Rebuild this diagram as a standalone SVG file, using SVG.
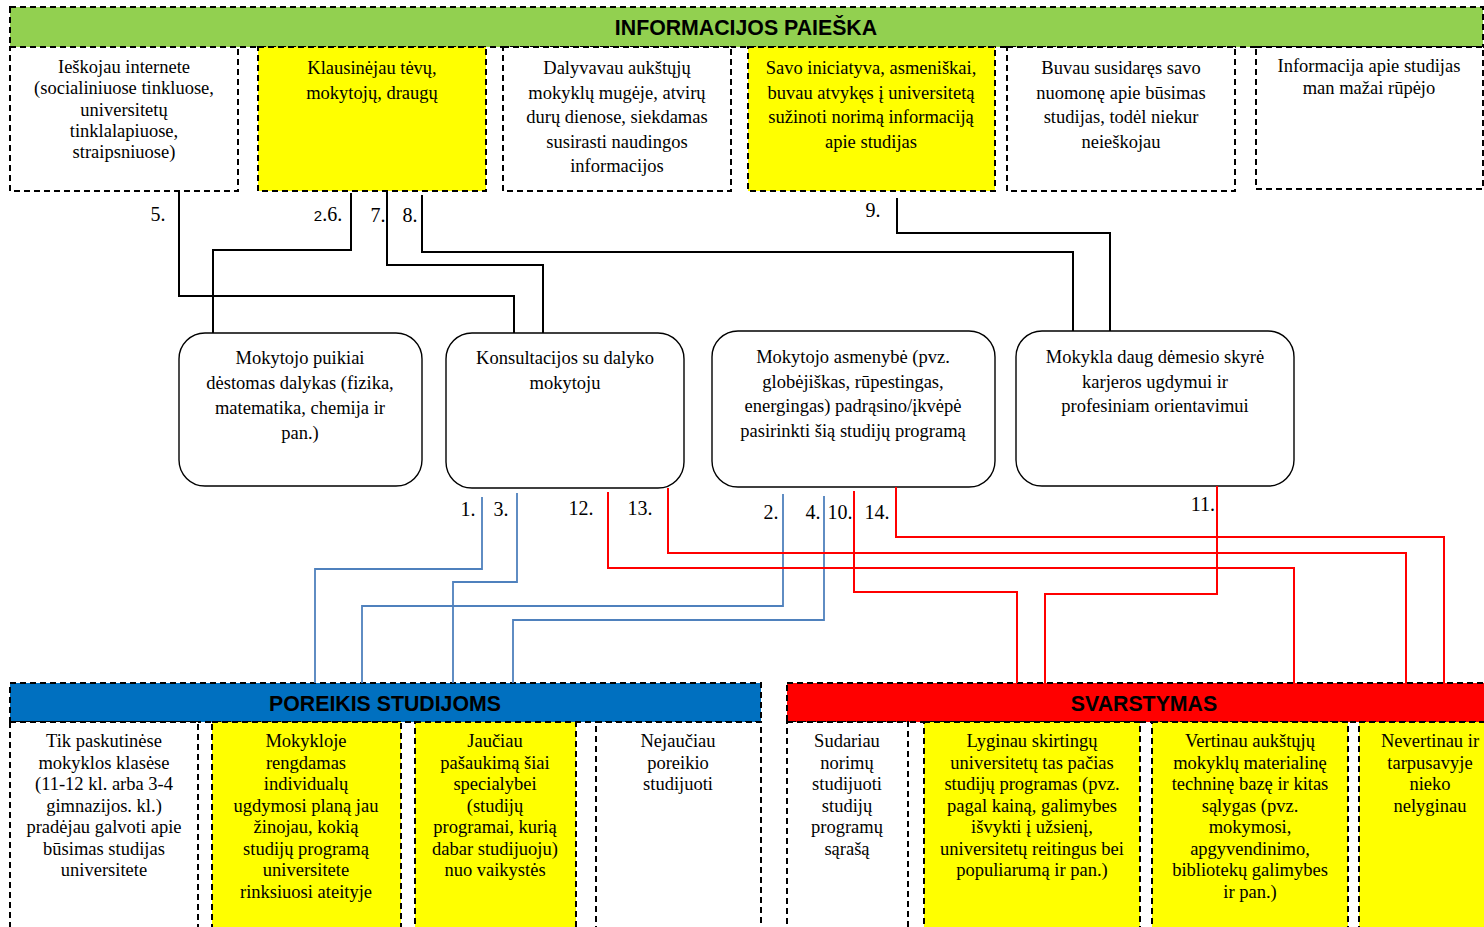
<svg xmlns="http://www.w3.org/2000/svg" width="1484" height="927" viewBox="0 0 1484 927">
  <style>
    .dash { stroke: #000; stroke-width: 2; stroke-dasharray: 6 4; }
    .white { fill: #fff; }
    .yellow { fill: #ffff00; }
    .green { fill: #92d050; }
    .blue { fill: #0070c0; }
    .red { fill: #ff0000; }
    .round { fill: #fff; stroke: #000; stroke-width: 1.4; }
    .t { font-family: "Liberation Serif", "Times New Roman", serif; font-size: 18.5px; fill: #000; text-anchor: middle; }
    .num { font-family: "Liberation Serif", "Times New Roman", serif; font-size: 20px; fill: #000; text-anchor: middle; }
    .hdr { font-family: "Liberation Sans", Arial, sans-serif; font-size: 21.3px; font-weight: bold; fill: #000; text-anchor: middle; }
    .cb { fill: none; stroke: #000; stroke-width: 2; }
    .cbl { fill: none; stroke: #4f81bd; stroke-width: 1.8; }
    .cr { fill: none; stroke: #ff0000; stroke-width: 2; }
  </style>

  <rect width="1484" height="927" fill="#fff"/>

  <!-- Section banners -->
  <g id="banner-paieska">
    <rect class="green dash" x="10" y="7" width="1473" height="40"/>
    <text class="hdr" x="746" y="35">INFORMACIJOS PAIEŠKA</text>
  </g>
  <g id="banner-poreikis">
    <rect class="blue dash" x="10" y="683" width="751" height="39"/>
    <text class="hdr" x="385" y="711">POREIKIS STUDIJOMS</text>
  </g>
  <g id="banner-svarstymas">
    <rect class="red dash" x="787" y="683" width="720" height="39"/>
    <text class="hdr" x="1144" y="711">SVARSTYMAS</text>
  </g>

  <!-- Information search options -->
  <g id="info-internet">
    <rect class="white dash" x="10" y="47" width="228" height="144"/>
    <text class="t" x="124" y="73">Ieškojau internete<tspan x="124" dy="21.3">(socialiniuose tinkluose,</tspan><tspan x="124" dy="21.3">universitetų</tspan><tspan x="124" dy="21.3">tinklalapiuose,</tspan><tspan x="124" dy="21.3">straipsniuose)</tspan></text>
  </g>
  <g id="info-parents">
    <rect class="yellow dash" x="258" y="47" width="228" height="144"/>
    <text class="t" x="372" y="74">Klausinėjau tėvų,<tspan x="372" dy="25">mokytojų, draugų</tspan></text>
  </g>
  <g id="info-fair">
    <rect class="white dash" x="503" y="47" width="228" height="144"/>
    <text class="t" x="617" y="74">Dalyvavau aukštųjų<tspan x="617" dy="24.5">mokyklų mugėje, atvirų</tspan><tspan x="617" dy="24.5">durų dienose, siekdamas</tspan><tspan x="617" dy="24.5">susirasti naudingos</tspan><tspan x="617" dy="24.5">informacijos</tspan></text>
  </g>
  <g id="info-visit">
    <rect class="yellow dash" x="748" y="47" width="247" height="144"/>
    <text class="t" x="871" y="74">Savo iniciatyva, asmeniškai,<tspan x="871" dy="24.5">buvau atvykęs į universitetą</tspan><tspan x="871" dy="24.5">sužinoti norimą informaciją</tspan><tspan x="871" dy="24.5">apie studijas</tspan></text>
  </g>
  <g id="info-opinion">
    <rect class="white dash" x="1007" y="47" width="228" height="144"/>
    <text class="t" x="1121" y="74">Buvau susidaręs savo<tspan x="1121" dy="24.5">nuomonę apie būsimas</tspan><tspan x="1121" dy="24.5">studijas, todėl niekur</tspan><tspan x="1121" dy="24.5">neieškojau</tspan></text>
  </g>
  <g id="info-none">
    <rect class="white dash" x="1256" y="47" width="227" height="142"/>
    <text class="t" x="1369" y="72">Informacija apie studijas<tspan x="1369" dy="22">man mažai rūpėjo</tspan></text>
  </g>

  <!-- School factors -->
  <g id="school-subject">
    <rect class="round" x="179" y="333" width="243" height="153" rx="26"/>
    <text class="t" x="300" y="364">Mokytojo puikiai<tspan x="300" dy="25">dėstomas dalykas (fizika,</tspan><tspan x="300" dy="25">matematika, chemija ir</tspan><tspan x="300" dy="25">pan.)</tspan></text>
  </g>
  <g id="school-consult">
    <rect class="round" x="446" y="333" width="238" height="155" rx="26"/>
    <text class="t" x="565" y="364">Konsultacijos su dalyko<tspan x="565" dy="25">mokytoju</tspan></text>
  </g>
  <g id="school-teacher">
    <rect class="round" x="712" y="331" width="283" height="156" rx="26"/>
    <text class="t" x="853" y="363">Mokytojo asmenybė (pvz.<tspan x="853" dy="24.7">globėjiškas, rūpestingas,</tspan><tspan x="853" dy="24.7">energingas) padrąsino/įkvėpė</tspan><tspan x="853" dy="24.7">pasirinkti šią studijų programą</tspan></text>
  </g>
  <g id="school-career">
    <rect class="round" x="1016" y="331" width="278" height="155" rx="26"/>
    <text class="t" x="1155" y="363">Mokykla daug dėmesio skyrė<tspan x="1155" dy="24.5">karjeros ugdymui ir</tspan><tspan x="1155" dy="24.5">profesiniam orientavimui</tspan></text>
  </g>

  <!-- Study need options -->
  <g id="need-late">
    <rect class="white dash" x="10" y="722" width="188" height="240"/>
    <text class="t" x="104" y="747">Tik paskutinėse<tspan x="104" dy="21.5">mokyklos klasėse</tspan><tspan x="104" dy="21.5">(11-12 kl. arba 3-4</tspan><tspan x="104" dy="21.5">gimnazijos. kl.)</tspan><tspan x="104" dy="21.5">pradėjau galvoti apie</tspan><tspan x="104" dy="21.5">būsimas studijas</tspan><tspan x="104" dy="21.5">universitete</tspan></text>
  </g>
  <g id="need-plan">
    <rect class="yellow dash" x="212" y="722" width="189" height="240"/>
    <text class="t" x="306" y="747">Mokykloje<tspan x="306" dy="21.5">rengdamas</tspan><tspan x="306" dy="21.5">individualų</tspan><tspan x="306" dy="21.5">ugdymosi planą jau</tspan><tspan x="306" dy="21.5">žinojau, kokią</tspan><tspan x="306" dy="21.5">studijų programą</tspan><tspan x="306" dy="21.5">universitete</tspan><tspan x="306" dy="21.5">rinksiuosi ateityje</tspan></text>
  </g>
  <g id="need-calling">
    <rect class="yellow dash" x="415" y="722" width="161" height="240"/>
    <text class="t" x="495" y="747">Jaučiau<tspan x="495" dy="21.5">pašaukimą šiai</tspan><tspan x="495" dy="21.5">specialybei</tspan><tspan x="495" dy="21.5">(studijų</tspan><tspan x="495" dy="21.5">programai, kurią</tspan><tspan x="495" dy="21.5">dabar studijuoju)</tspan><tspan x="495" dy="21.5">nuo vaikystės</tspan></text>
  </g>
  <g id="need-none">
    <rect class="white dash" x="596" y="722" width="165" height="240"/>
    <text class="t" x="678" y="747">Nejaučiau<tspan x="678" dy="21.5">poreikio</tspan><tspan x="678" dy="21.5">studijuoti</tspan></text>
  </g>

  <!-- Consideration options -->
  <g id="consider-list">
    <rect class="white dash" x="787" y="722" width="121" height="240"/>
    <text class="t" x="847" y="747">Sudariau<tspan x="847" dy="21.5">norimų</tspan><tspan x="847" dy="21.5">studijuoti</tspan><tspan x="847" dy="21.5">studijų</tspan><tspan x="847" dy="21.5">programų</tspan><tspan x="847" dy="21.5">sąrašą</tspan></text>
  </g>
  <g id="consider-compare">
    <rect class="yellow dash" x="924" y="722" width="216" height="240"/>
    <text class="t" x="1032" y="747">Lyginau skirtingų<tspan x="1032" dy="21.5">universitetų tas pačias</tspan><tspan x="1032" dy="21.5">studijų programas (pvz.</tspan><tspan x="1032" dy="21.5">pagal kainą, galimybes</tspan><tspan x="1032" dy="21.5">išvykti į užsienį,</tspan><tspan x="1032" dy="21.5">universitetų reitingus bei</tspan><tspan x="1032" dy="21.5">populiarumą ir pan.)</tspan></text>
  </g>
  <g id="consider-facilities">
    <rect class="yellow dash" x="1152" y="722" width="196" height="240"/>
    <text class="t" x="1250" y="747">Vertinau aukštųjų<tspan x="1250" dy="21.5">mokyklų materialinę</tspan><tspan x="1250" dy="21.5">techninę bazę ir kitas</tspan><tspan x="1250" dy="21.5">sąlygas (pvz.</tspan><tspan x="1250" dy="21.5">mokymosi,</tspan><tspan x="1250" dy="21.5">apgyvendinimo,</tspan><tspan x="1250" dy="21.5">bibliotekų galimybes</tspan><tspan x="1250" dy="21.5">ir pan.)</tspan></text>
  </g>
  <g id="consider-none">
    <rect class="yellow dash" x="1359" y="722" width="150" height="240"/>
    <text class="t" x="1430" y="747">Nevertinau ir<tspan x="1430" dy="21.5">tarpusavyje</tspan><tspan x="1430" dy="21.5">nieko</tspan><tspan x="1430" dy="21.5">nelyginau</tspan></text>
  </g>

  <!-- Connectors -->
  <g id="connectors">
    <!-- upper, black -->
    <polyline class="cb" points="179,191 179,296 514,296 514,333"/>
    <polyline class="cb" points="351,193 351,250 213,250 213,333"/>
    <polyline class="cb" points="387,191 387,265 543,265 543,333"/>
    <polyline class="cb" points="422,195 422,252 1073,252 1073,331"/>
    <polyline class="cb" points="897,198 897,233 1110,233 1110,331"/>
    <!-- lower, blue -->
    <polyline class="cbl" points="482,497 482,569 315,569 315,683"/>
    <polyline class="cbl" points="517,493 517,582 453,582 453,683"/>
    <polyline class="cbl" points="783,494 783,606 362,606 362,683"/>
    <polyline class="cbl" points="824,496 824,620 513,620 513,683"/>
    <!-- lower, red -->
    <polyline class="cr" points="608,492 608,568 1294,568 1294,683"/>
    <polyline class="cr" points="668,488 668,553 1406,553 1406,683"/>
    <polyline class="cr" points="854,491 854,592 1017,592 1017,683"/>
    <polyline class="cr" points="896,487 896,537 1444,537 1444,683"/>
    <polyline class="cr" points="1217,486 1217,594 1045,594 1045,683"/>

    <!-- connector numbers -->
    <text class="num" x="158" y="221">5.</text>
    <text class="num" x="328" y="221"><tspan font-size="15" font-family="Liberation Sans, Arial, sans-serif">2</tspan>.6.</text>
    <text class="num" x="378" y="222">7.</text>
    <text class="num" x="410" y="222">8.</text>
    <text class="num" x="873" y="217">9.</text>
    <text class="num" x="468" y="516">1.</text>
    <text class="num" x="501" y="516">3.</text>
    <text class="num" x="581" y="515">12.</text>
    <text class="num" x="640" y="515">13.</text>
    <text class="num" x="771" y="519">2.</text>
    <text class="num" x="813" y="519">4.</text>
    <text class="num" x="840" y="519">10.</text>
    <text class="num" x="877" y="519">14.</text>
    <text class="num" x="1203" y="511">11.</text>
  </g>
</svg>
